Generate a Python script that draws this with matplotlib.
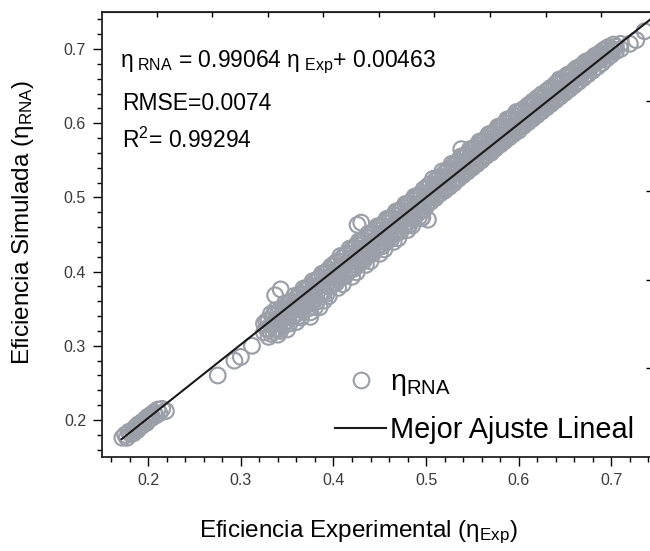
import numpy as np
import matplotlib
matplotlib.use("Agg")
import matplotlib.pyplot as plt

plt.rcParams['font.family'] = ['Liberation Sans', 'DejaVu Sans']
plt.rcParams['mathtext.fontset'] = 'custom'
plt.rcParams['mathtext.rm'] = 'Liberation Sans'
plt.rcParams['mathtext.it'] = 'Liberation Sans:italic'
plt.rcParams['mathtext.bf'] = 'Liberation Sans:bold'

# fit coefficients printed on the chart
slope = 0.99064
intercept = 0.00463
rmse = 0.0074
r2 = 0.99294

# low efficiency cluster (exp, rna)
low_pts = [(0.172, 0.176), (0.175, 0.180), (0.177, 0.176), (0.179, 0.184), (0.181, 0.181),
           (0.183, 0.186), (0.184, 0.182), (0.186, 0.190), (0.188, 0.186), (0.189, 0.194),
           (0.191, 0.190), (0.193, 0.197), (0.194, 0.193), (0.196, 0.200), (0.198, 0.196),
           (0.199, 0.204), (0.201, 0.201), (0.203, 0.207), (0.204, 0.203), (0.206, 0.210),
           (0.208, 0.206), (0.210, 0.214), (0.212, 0.209), (0.215, 0.215), (0.219, 0.212)]

# isolated points
outliers = [(0.275, 0.260), (0.293, 0.280), (0.300, 0.285), (0.312, 0.300),
            (0.337, 0.368), (0.343, 0.376), (0.375, 0.339), (0.385, 0.352),
            (0.426, 0.463), (0.430, 0.466), (0.496, 0.473), (0.502, 0.470),
            (0.538, 0.565), (0.617, 0.630), (0.644, 0.659), (0.710, 0.700),
            (0.720, 0.707), (0.727, 0.712), (0.736, 0.724)]

# main band: each row is (eficiencia experimental, simuladas...)
band_rows = [
    (0.325, 0.318, 0.330), (0.3275, 0.323, 0.333), (0.330, 0.322, 0.334, 0.312),
    (0.3325, 0.343, 0.328, 0.316), (0.335, 0.330, 0.319, 0.341), (0.3375, 0.334, 0.348, 0.322),
    (0.340, 0.336, 0.322, 0.344, 0.315), (0.3425, 0.349, 0.332, 0.320),
    (0.345, 0.340, 0.328, 0.351), (0.3475, 0.357, 0.343, 0.331),
    (0.350, 0.347, 0.333, 0.322, 0.356), (0.3525, 0.359, 0.342, 0.330),
    (0.355, 0.350, 0.338, 0.360), (0.3575, 0.367, 0.353, 0.341),
    (0.360, 0.356, 0.343, 0.332, 0.364), (0.3625, 0.369, 0.352, 0.340),
    (0.365, 0.360, 0.349, 0.370, 0.338), (0.3675, 0.377, 0.363, 0.351),
    (0.370, 0.366, 0.354, 0.376), (0.3725, 0.379, 0.362, 0.350),
    (0.375, 0.372, 0.358, 0.345, 0.381), (0.3775, 0.387, 0.373, 0.361),
    (0.380, 0.377, 0.363, 0.386, 0.352), (0.3825, 0.389, 0.372, 0.360),
    (0.385, 0.381, 0.369, 0.392), (0.3875, 0.397, 0.383, 0.371),
    (0.390, 0.387, 0.372, 0.361, 0.398), (0.3925, 0.399, 0.382, 0.370),
    (0.395, 0.392, 0.380, 0.403, 0.367), (0.3975, 0.407, 0.393, 0.381),
    (0.400, 0.397, 0.384, 0.409), (0.4025, 0.412, 0.396, 0.384),
    (0.405, 0.402, 0.389, 0.378, 0.414), (0.4075, 0.421, 0.405, 0.393),
    (0.410, 0.408, 0.394, 0.419, 0.383), (0.4125, 0.422, 0.406, 0.394),
    (0.415, 0.412, 0.399, 0.425), (0.4175, 0.431, 0.415, 0.403),
    (0.420, 0.418, 0.404, 0.393, 0.430), (0.4225, 0.432, 0.416, 0.404),
    (0.425, 0.423, 0.409, 0.436, 0.399), (0.4275, 0.441, 0.425, 0.413),
    (0.430, 0.428, 0.415, 0.440), (0.4325, 0.442, 0.426, 0.414),
    (0.435, 0.433, 0.420, 0.409, 0.446), (0.4375, 0.451, 0.435, 0.423),
    (0.440, 0.438, 0.425, 0.451, 0.414), (0.4425, 0.452, 0.436, 0.424),
    (0.445, 0.443, 0.430, 0.456), (0.4475, 0.461, 0.445, 0.433),
    (0.450, 0.448, 0.436, 0.424, 0.461), (0.4525, 0.462, 0.446, 0.434),
    (0.455, 0.454, 0.440, 0.466, 0.430), (0.4575, 0.471, 0.455, 0.443),
    (0.460, 0.458, 0.446, 0.471), (0.4625, 0.472, 0.456, 0.444),
    (0.465, 0.463, 0.450, 0.440, 0.476), (0.4675, 0.481, 0.465, 0.453),
    (0.470, 0.469, 0.456, 0.481, 0.445), (0.4725, 0.482, 0.466, 0.454),
    (0.475, 0.473, 0.461, 0.486), (0.4775, 0.491, 0.475, 0.463),
    (0.480, 0.479, 0.466, 0.456, 0.491), (0.4825, 0.492, 0.476, 0.464),
    (0.485, 0.484, 0.471, 0.496, 0.462), (0.4875, 0.501, 0.485, 0.473),
    (0.490, 0.489, 0.477, 0.501), (0.4925, 0.502, 0.486, 0.474),
    (0.495, 0.494, 0.482, 0.506, 0.472), (0.4975, 0.511, 0.495, 0.483),
    (0.500, 0.499, 0.488, 0.511), (0.5025, 0.516, 0.505, 0.494),
    (0.505, 0.505, 0.494, 0.518), (0.5075, 0.525, 0.514, 0.503),
    (0.510, 0.511, 0.499, 0.523, 0.502), (0.5125, 0.526, 0.515, 0.504),
    (0.515, 0.515, 0.505, 0.528), (0.5175, 0.535, 0.524, 0.513),
    (0.520, 0.521, 0.509, 0.533, 0.512), (0.5225, 0.536, 0.525, 0.514),
    (0.525, 0.526, 0.514, 0.539), (0.5275, 0.545, 0.534, 0.523),
    (0.530, 0.531, 0.519, 0.544, 0.523), (0.5325, 0.546, 0.535, 0.524),
    (0.535, 0.536, 0.525, 0.549), (0.5375, 0.555, 0.544, 0.533),
    (0.540, 0.541, 0.530, 0.555, 0.534), (0.5425, 0.556, 0.545, 0.534),
    (0.545, 0.546, 0.535, 0.560), (0.5475, 0.565, 0.554, 0.543),
    (0.550, 0.551, 0.540, 0.565, 0.544), (0.5525, 0.566, 0.555, 0.544),
    (0.555, 0.556, 0.545, 0.570), (0.5575, 0.575, 0.564, 0.553),
    (0.560, 0.561, 0.550, 0.575, 0.554), (0.5625, 0.576, 0.565, 0.554),
    (0.565, 0.566, 0.556, 0.580), (0.5675, 0.585, 0.574, 0.563),
    (0.570, 0.571, 0.560, 0.586, 0.564), (0.5725, 0.586, 0.575, 0.564),
    (0.575, 0.576, 0.566, 0.590), (0.5775, 0.595, 0.584, 0.573),
    (0.580, 0.581, 0.571, 0.596, 0.575), (0.5825, 0.596, 0.585, 0.574),
    (0.585, 0.586, 0.576, 0.600), (0.5875, 0.605, 0.594, 0.583),
    (0.590, 0.591, 0.581, 0.605, 0.585), (0.5925, 0.606, 0.595, 0.584),
    (0.595, 0.596, 0.586, 0.610), (0.5975, 0.615, 0.604, 0.593),
    (0.600, 0.601, 0.590, 0.614, 0.594), (0.6025, 0.615, 0.605, 0.596),
    (0.605, 0.606, 0.596, 0.619), (0.6075, 0.617, 0.605),
    (0.610, 0.611, 0.601, 0.624, 0.605), (0.6125, 0.625, 0.615, 0.606),
    (0.615, 0.616, 0.606, 0.629), (0.6175, 0.627, 0.615),
    (0.620, 0.621, 0.611, 0.634, 0.614), (0.6225, 0.635, 0.625, 0.616),
    (0.625, 0.626, 0.616, 0.639), (0.6275, 0.637, 0.625),
    (0.630, 0.631, 0.621, 0.643, 0.625), (0.6325, 0.645, 0.635, 0.626),
    (0.635, 0.636, 0.626, 0.648), (0.6375, 0.647, 0.635),
    (0.640, 0.641, 0.631, 0.653, 0.634), (0.6425, 0.655, 0.645, 0.636),
    (0.645, 0.645, 0.636, 0.657), (0.6475, 0.657, 0.645),
    (0.650, 0.650, 0.641, 0.662, 0.644), (0.6525, 0.665, 0.655, 0.646),
    (0.655, 0.655, 0.646, 0.666), (0.6575, 0.667, 0.655),
    (0.660, 0.660, 0.651, 0.671), (0.6625, 0.674, 0.664, 0.656),
    (0.665, 0.665, 0.656, 0.675), (0.6675, 0.676, 0.665),
    (0.670, 0.670, 0.661, 0.680), (0.6725, 0.683, 0.673, 0.666),
    (0.675, 0.674, 0.666, 0.684), (0.6775, 0.685, 0.675),
    (0.680, 0.679, 0.671, 0.688), (0.6825, 0.691, 0.682),
    (0.685, 0.684, 0.676, 0.692), (0.6875, 0.694, 0.685),
    (0.690, 0.689, 0.681, 0.697), (0.6925, 0.699, 0.690),
    (0.695, 0.694, 0.687, 0.701), (0.6975, 0.703, 0.695),
    (0.700, 0.698, 0.692), (0.7025, 0.706, 0.699),
    (0.705, 0.703, 0.697), (0.710, 0.707),
]

xticks = [0.2, 0.3, 0.4, 0.5, 0.6, 0.7]
yticks = [0.2, 0.3, 0.4, 0.5, 0.6, 0.7]
top_ticks = [0.209, 0.269, 0.329, 0.389, 0.449, 0.509, 0.569, 0.629, 0.689]
right_ticks = [0.270, 0.389, 0.509, 0.630]

# collect all points
eff_exp = [p[0] for p in low_pts] + [p[0] for p in outliers]
eff_rna = [p[1] for p in low_pts] + [p[1] for p in outliers]
for row in band_rows:
    for v in row[1:]:
        eff_exp.append(row[0])
        eff_rna.append(v)

gray = '#9a9fa8'

fig = plt.figure(figsize=(6.5, 5.51), dpi=100)
ax = fig.add_axes([102 / 650, 94.3 / 551, 550 / 650, 445 / 551])

ax.scatter(eff_exp, eff_rna, s=128, facecolors='none', edgecolors=gray,
           linewidths=1.55, zorder=2)
fit_x = np.array([0.171, 0.744])
ax.plot(fit_x, slope * fit_x + intercept, color='#1a1a1a', lw=1.5, zorder=3)

ax.set_xlim(0.150, 0.744)
ax.set_ylim(0.1505, 0.7503)
ax.set_xticks(xticks)
ax.set_yticks(yticks)
ax.set_xticks(np.arange(0.16, 0.745, 0.02), minor=True)
ax.set_yticks(np.arange(0.16, 0.75, 0.02), minor=True)
ax.xaxis.set_major_formatter(matplotlib.ticker.FormatStrFormatter('%.1f'))
ax.yaxis.set_major_formatter(matplotlib.ticker.FormatStrFormatter('%.1f'))
ax.tick_params(which='major', direction='out', length=6.5, width=1.0,
               labelsize=11.5, labelcolor='#3a3a3a', pad=5)
ax.tick_params(which='minor', direction='out', length=3.3, width=1.0)
for sp in ax.spines.values():
    sp.set_linewidth(1.3)
    sp.set_color('#222222')

# top and right axes with their own ticks
sec_x = ax.secondary_xaxis('top')
sec_x.set_xticks(top_ticks)
sec_x.tick_params(direction='in', length=3.5, width=1.0, labeltop=False)
sec_y = ax.secondary_yaxis('right')
sec_y.set_yticks(right_ticks)
sec_y.tick_params(direction='in', length=4.5, width=1.0, labelright=False)

# legend
h1, = ax.plot([], [], 'o', mfc='none', mec=gray, mew=1.5, ms=11.3)
h2, = ax.plot([], [], '-', color='#1a1a1a', lw=1.5)
ax.legend([h1, h2], [r'$\mathregular{η_{RNA}}$', 'Mejor Ajuste Lineal'],
          loc='upper left', bbox_to_anchor=(335 / 650, 1 - 368 / 551),
          bbox_transform=fig.transFigure, frameon=False, fontsize=20.8,
          handlelength=1.78, handletextpad=0.12, borderpad=0, borderaxespad=0,
          labelspacing=0.62)

# equation text
fig.text(120 / 650, 1 - 62 / 551,
         r'$\mathregular{η_{\ RNA}}$ = 0.99064 $\mathregular{η_{\ Exp}}$+ 0.00463',
         fontsize=16.5, va='center', ha='left')
fig.text(122 / 650, 1 - 104 / 551, 'RMSE=0.0074', fontsize=16.5, va='center', ha='left')
fig.text(122 / 650, 1 - 140 / 551, r'R$^{2}$= 0.99294', fontsize=16.5, va='center', ha='left')

fig.text(358 / 650, 1 - 532 / 551, r'Eficiencia Experimental ($\mathregular{η_{Exp}}$)',
         fontsize=17.5, ha='center', va='center')
fig.text(23 / 650, 1 - 222 / 551, r'Eficiencia Simulada ($\mathregular{η_{RNA}}$)',
         fontsize=17.5, ha='center', va='center', rotation=90)

fig.savefig('out.png', dpi=100)
